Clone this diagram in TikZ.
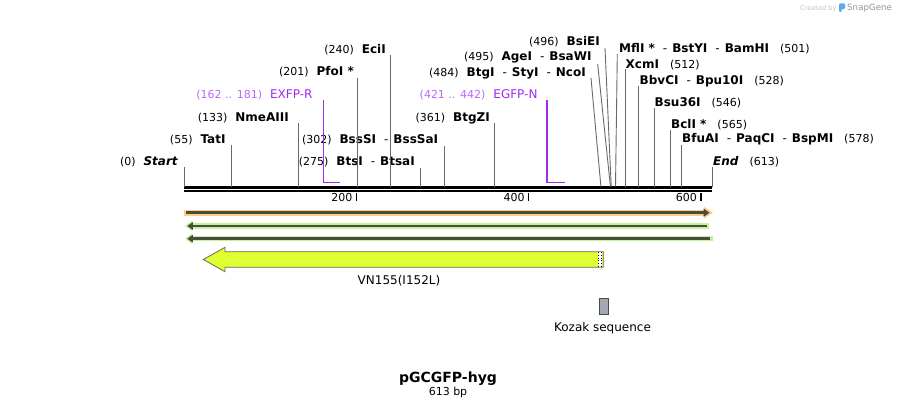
\documentclass[tikz,border=0pt]{standalone}
\usepackage{fontspec}
\setmainfont{DejaVu Sans}[BoldFont={DejaVu Sans Bold},ItalicFont={DejaVu Sans Oblique},BoldItalicFont={DejaVu Sans Bold Oblique}]
\usepackage{xcolor}
\usetikzlibrary{arrows.meta}
\definecolor{sitegray}{RGB}{105,105,105}
\definecolor{prim}{RGB}{160,40,240}
\definecolor{primlt}{RGB}{185,105,250}
\definecolor{orlt}{RGB}{255,204,128}
\definecolor{grlt}{RGB}{196,242,152}
\definecolor{dkline}{RGB}{72,76,66}
\definecolor{cdsyel}{RGB}{224,255,48}
\definecolor{kozak}{RGB}{163,168,178}
\definecolor{sgblue}{RGB}{90,170,235}
\definecolor{wmlt}{RGB}{195,195,195}
\definecolor{wmdk}{RGB}{150,150,150}
\tikzstyle{lab}=[inner sep=0pt, font=\fontsize{12}{14}\selectfont]
\tikzstyle{site}=[line width=0.9pt, draw=sitegray]
\tikzstyle{primer}=[line width=1.8pt, draw=prim]
\tikzstyle{tick}=[line width=1.4pt, draw=black]
\newcommand{\bpnum}[1]{{\fontsize{11}{13}\selectfont\mdseries(#1)}}
\newcommand{\sepr}{\hspace{8pt}{\mdseries-}\hspace{5pt}}

\begin{document}
\begin{tikzpicture}[x=1pt,y=-1pt]
\useasboundingbox (0,0) rectangle (897,409);

% backbone
\coordinate (bb0) at (184,187.3);
\coordinate (bb613) at (712,187.3);
\draw[line width=2.6pt] (bb0) -- (bb613);
\draw[line width=2.2pt] ([yshift=-4pt]bb0) -- ([yshift=-4pt]bb613);

\coordinate (k200) at (356.3,193);
\coordinate (k400) at (528.5,193);
\coordinate (k600) at (700.8,193);
\draw[tick] (k200) -- ++(0,7.5);
\draw[tick] (k400) -- ++(0,7.5);
\draw[tick] (k600) -- ++(0,7.5);
\node[lab,anchor=base east,font=\fontsize{11}{13}\selectfont] (n200) at (352.5,201.7) {200};
\node[lab,anchor=base east,font=\fontsize{11}{13}\selectfont] (n400) at (524.7,201.7) {400};
\node[lab,anchor=base east,font=\fontsize{11}{13}\selectfont] (n600) at (697,201.7) {600};

%%%%%%%%%%%%%%%%%%%%%%%%%%% left labels
\node[lab,anchor=base east] (lstart) at (178.3,166) {\bpnum{0}\hspace{8pt}\textbf{\textit{Start}}};
\node[lab,anchor=base east] (ltat) at (225.7,143.3) {\bpnum{55}\hspace{8pt}\textbf{TatI}};
\node[lab,anchor=base east] (lnme) at (289,121.7) {\bpnum{133}\hspace{8pt}\textbf{NmeAIII}};
\node[lab,anchor=base east] (lexfp) at (312.7,98.3) {{\color{primlt}\bpnum{162 .. 181}}\hspace{8pt}{\color{prim}EXFP-R}};
\node[lab,anchor=base east] (lpfo) at (354,75.7) {\bpnum{201}\hspace{8pt}\textbf{PfoI *}};
\node[lab,anchor=base east] (leci) at (386,53.3) {\bpnum{240}\hspace{8pt}\textbf{EciI}};
\node[lab,anchor=base east] (lbts) at (415,166) {\bpnum{275}\hspace{8pt}\textbf{BtsI}\sepr\textbf{BtsaI}};
\node[lab,anchor=base east] (lbss) at (438.3,143.3) {\bpnum{302}\hspace{8pt}\textbf{BssSI}\sepr\textbf{BssSaI}};
\node[lab,anchor=base east] (lbtgz) at (490,121.7) {\bpnum{361}\hspace{8pt}\textbf{BtgZI}};
\node[lab,anchor=base east] (legfp) at (537.7,98.3) {{\color{primlt}\bpnum{421 .. 442}}\hspace{8pt}{\color{prim}EGFP-N}};
\node[lab,anchor=base east] (lbtg) at (586,76.5) {\bpnum{484}\hspace{8pt}\textbf{BtgI}\sepr\textbf{StyI}\sepr\textbf{NcoI}};
\node[lab,anchor=base east] (lage) at (591.7,61) {\bpnum{495}\hspace{8pt}\textbf{AgeI}\sepr\textbf{BsaWI}};
\node[lab,anchor=base east] (lbsie) at (600,46) {\bpnum{496}\hspace{8pt}\textbf{BsiEI}};

%%%%%%%%%%%%%%%%%%%%%%%%%%% right labels
\node[lab,anchor=base west] (lmfl) at (619,52.3) {\textbf{MflI *}\sepr\textbf{BstYI}\sepr\textbf{BamHI}\hspace{11pt}\bpnum{501}};
\node[lab,anchor=base west] (lxcm) at (625.5,68.3) {\textbf{XcmI}\hspace{11pt}\bpnum{512}};
\node[lab,anchor=base west] (lbbv) at (639.5,84.3) {\textbf{BbvCI}\sepr\textbf{Bpu10I}\hspace{11pt}\bpnum{528}};
\node[lab,anchor=base west] (lbsu) at (654.5,106.5) {\textbf{Bsu36I}\hspace{11pt}\bpnum{546}};
\node[lab,anchor=base west] (lbcl) at (671,129) {\textbf{BclI *}\hspace{11pt}\bpnum{565}};
\node[lab,anchor=base west] (lbfu) at (682,142.3) {\textbf{BfuAI}\sepr\textbf{PaqCI}\sepr\textbf{BspMI}\hspace{11pt}\bpnum{578}};
\node[lab,anchor=base west] (lend) at (713,166) {\textbf{\textit{End}}\hspace{11pt}\bpnum{613}};

%%%%%%%%%%%%%%%%%%%%%%%%%%% site lines
\coordinate (bstart) at (184,186.5);   \coordinate (tstart) at (184,167);
\coordinate (btat) at (231.4,186.5);   \coordinate (ttat) at (231.4,145);
\coordinate (bnme) at (298.6,186.5);   \coordinate (tnme) at (298.6,123);
\coordinate (bpfo) at (357.1,186.5);   \coordinate (tpfo) at (357.1,78);
\coordinate (beci) at (390.7,186.5);   \coordinate (teci) at (390.7,55);
\coordinate (bbts) at (420.9,186.5);   \coordinate (tbts) at (420.9,168);
\coordinate (bbss) at (444.1,186.5);   \coordinate (tbss) at (444.1,146);
\coordinate (bbtgz) at (494.9,186.5);  \coordinate (tbtgz) at (494.9,123);
\coordinate (bbtg) at (600.9,186.5);   \coordinate (tbtg) at (591,78);
\coordinate (bage) at (610.4,186.5);   \coordinate (tage) at (597.7,64);
\coordinate (bbsie) at (611.2,186.5);  \coordinate (tbsie) at (605,48);
\coordinate (bmfl) at (615.5,186.5);   \coordinate (tmfl) at (617.3,54);
\coordinate (bxcm) at (625,186.5);     \coordinate (txcm) at (625,69);
\coordinate (bbbv) at (638.8,186.5);   \coordinate (tbbv) at (638.8,86);
\coordinate (bbsu) at (654.3,186.5);   \coordinate (tbsu) at (654.3,108);
\coordinate (bbcl) at (670.7,186.5);   \coordinate (tbcl) at (670.7,130);
\coordinate (bbfu) at (681.9,186.5);   \coordinate (tbfu) at (681.9,145);
\coordinate (bend) at (712,186.5);     \coordinate (tend) at (712,167);

\draw[site] (bstart) -- (tstart);
\draw[site] (btat) -- (ttat);
\draw[site] (bnme) -- (tnme);
\draw[site] (bpfo) -- (tpfo);
\draw[site] (beci) -- (teci);
\draw[site] (bbts) -- (tbts);
\draw[site] (bbss) -- (tbss);
\draw[site] (bbtgz) -- (tbtgz);
\draw[site] (bbtg) -- (tbtg);
\draw[site] (bage) -- (tage);
\draw[site] (bbsie) -- (tbsie);
\draw[site] (bmfl) -- (tmfl);
\draw[site] (bxcm) -- (txcm);
\draw[site] (bbbv) -- (tbbv);
\draw[site] (bbsu) -- (tbsu);
\draw[site] (bbcl) -- (tbcl);
\draw[site] (bbfu) -- (tbfu);
\draw[site] (bend) -- (tend);

% primers
\coordinate (pr1a) at (323.5,100);
\coordinate (pr1b) at (339.9,182.5);
\coordinate (pr2a) at (546.6,100);
\coordinate (pr2b) at (564.7,182.5);
\draw[primer] (pr1a) |- (pr1b);
\draw[primer] (pr2a) |- (pr2b);

%%%%%%%%%%%%%%%%%%%%%%%%%%% features
\coordinate (or0) at (184,212.7);   \coordinate (or1) at (713,212.7);
\coordinate (gr0) at (185,226);     \coordinate (gr1) at (709,226);
\coordinate (gs0) at (185,238.7);   \coordinate (gs1) at (712.7,238.7);

\draw[line width=6pt, draw=orlt, -{Triangle[length=9pt,width=11pt]}] (or0) -- (or1);
\draw[line width=2.5pt, draw=dkline, -{Triangle[length=6pt,width=8pt]}] ([xshift=2pt]or0) -- ([xshift=-3.5pt]or1);

\draw[line width=5.5pt, draw=grlt, -{Triangle[length=7pt,width=10pt]}] (gr1) -- (gr0);
\draw[line width=2.5pt, draw=dkline, -{Triangle[length=5.5pt,width=7.5pt]}] ([xshift=-2.5pt]gr1) -- ([xshift=2.3pt]gr0);
\draw[line width=5.5pt, draw=grlt, -{Triangle[length=7pt,width=10pt]}] (gs1) -- (gs0);
\draw[line width=2.5pt, draw=dkline, -{Triangle[length=5.5pt,width=7.5pt]}] ([xshift=-2.5pt]gs1) -- ([xshift=2.3pt]gs0);

\draw[draw=sitegray, line width=0.8pt, fill=cdsyel] (603.3,251.7) -- (225,251.7) -- (225,247.3) -- (203.3,259.5) -- (225,271.7) -- (225,267.3) -- (603.3,267.3) -- cycle;
\fill[white] (598,252.2) rectangle (602,266.8);
\draw[dotted, line width=0.7pt] (598,252.2) -- (598,266.8);
\draw[dotted, line width=0.7pt] (601.8,252.2) -- (601.8,266.8);
\node[lab,anchor=base] (vnl) at (399,284.5) {VN155(I152L)};

\node[draw=dkline, fill=kozak, line width=0.7pt, minimum width=9.4pt, minimum height=16pt, inner sep=0pt] (kz) at (604,306.3) {};
\node[lab,anchor=base] (kzl) at (602.5,331.5) {Kozak sequence};

\node[lab,anchor=base,font=\fontsize{14}{16}\selectfont\bfseries] (ttl) at (448,382.7) {pGCGFP-hyg};
\node[lab,anchor=base,font=\fontsize{11}{13}\selectfont] (sz) at (448,395.7) {613 bp};

% watermark
\node[anchor=base west, inner sep=0pt, font=\fontsize{6.6}{8}\selectfont, text=wmlt] (cby) at (800,10.5) {Created by};
\fill[sgblue, rounded corners=1pt] (839,3.5) -- (845,3.5) -- (845,9) -- (841.6,9) -- (841.6,12) -- (839,12) -- cycle;
\node[anchor=base west, inner sep=0pt, font=\fontsize{8.7}{10}\selectfont, text=wmdk] (sng) at (847,10.5) {SnapGene};

\end{tikzpicture}
\end{document}
